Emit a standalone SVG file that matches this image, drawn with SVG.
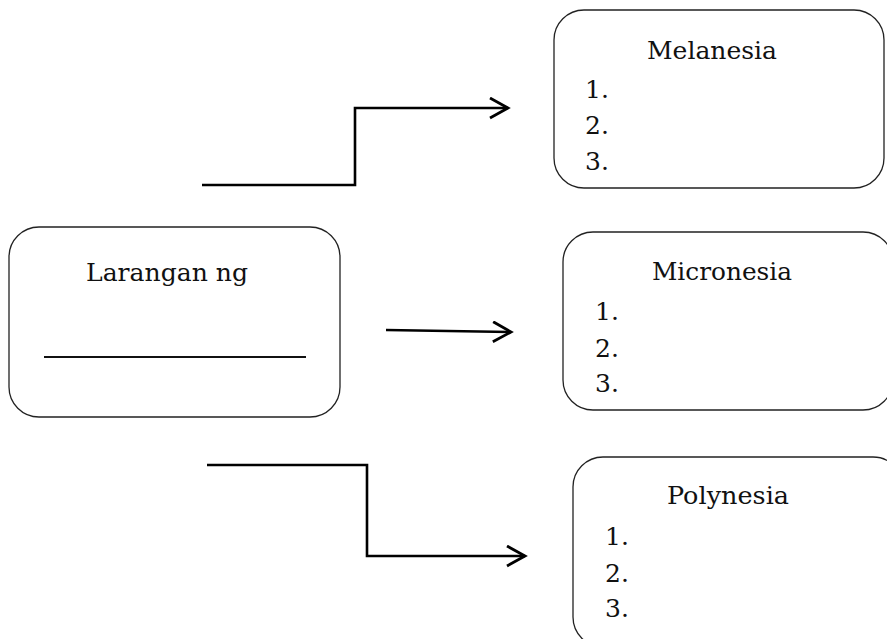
<svg xmlns="http://www.w3.org/2000/svg" width="887" height="639" viewBox="0 0 887 639">
<style>
.box{fill:#fff;stroke:#222;stroke-width:1.3}
.t{font-family:"DejaVu Serif","Liberation Serif",serif;font-size:25px;fill:#111}
.c{text-anchor:middle}
.ln{fill:none;stroke:#000;stroke-width:2.6}
.ul{stroke:#111;stroke-width:1.8}
</style>
<defs>
<marker id="ah" markerUnits="userSpaceOnUse" markerWidth="24" markerHeight="26" refX="20" refY="11" orient="auto" viewBox="0 0 24 26">
<path d="M2,1 L20,11 L2,21" fill="none" stroke="#000" stroke-width="2.8"/>
</marker>
</defs>
<rect width="887" height="639" fill="#fff"/>
<g id="larangan">
<rect class="box" x="9" y="227" width="331" height="190" rx="30" ry="30"/>
<text class="t c" x="167" y="281" textLength="162" lengthAdjust="spacingAndGlyphs">Larangan ng</text>
<line class="ul" x1="44" y1="357" x2="306" y2="357"/>
</g>
<g id="melanesia">
<rect class="box" x="554" y="10" width="330" height="178" rx="30" ry="30"/>
<text class="t c" x="712" y="59" textLength="130" lengthAdjust="spacingAndGlyphs">Melanesia</text>
<text class="t" x="585" y="98">1.</text>
<text class="t" x="585" y="134">2.</text>
<text class="t" x="585" y="170">3.</text>
</g>
<g id="micronesia">
<rect class="box" x="563" y="232" width="330" height="178" rx="30" ry="30"/>
<text class="t c" x="722" y="280" textLength="140" lengthAdjust="spacingAndGlyphs">Micronesia</text>
<text class="t" x="595" y="320">1.</text>
<text class="t" x="595" y="357">2.</text>
<text class="t" x="595" y="392">3.</text>
</g>
<g id="polynesia">
<rect class="box" x="573" y="457" width="330" height="190" rx="30" ry="30"/>
<text class="t c" x="728" y="504" textLength="122" lengthAdjust="spacingAndGlyphs">Polynesia</text>
<text class="t" x="605" y="545">1.</text>
<text class="t" x="605" y="582">2.</text>
<text class="t" x="605" y="617">3.</text>
</g>
<g id="connectors">
<polyline class="ln" points="202,185 355,185 355,108 508,108" marker-end="url(#ah)"/>
<line class="ln" x1="386" y1="330" x2="511" y2="332" marker-end="url(#ah)"/>
<polyline class="ln" points="207,465 367,465 367,556 525,556" marker-end="url(#ah)"/>
</g>
</svg>
